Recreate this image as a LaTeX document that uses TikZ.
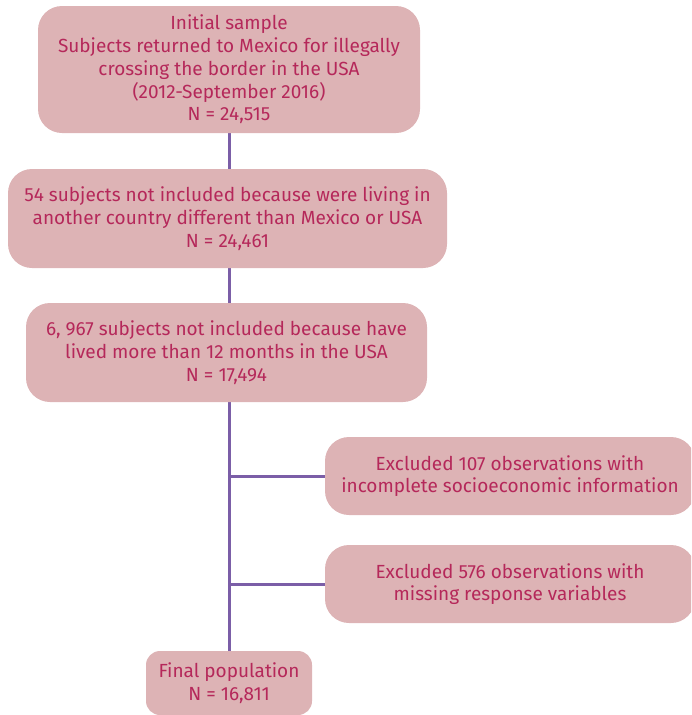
\documentclass[tikz,border=0pt]{standalone}
\usepackage{fontspec}
\setmainfont{Fira Sans}
\usetikzlibrary{backgrounds}
\definecolor{boxfill}{RGB}{221,179,181}
\definecolor{boxtext}{RGB}{181,40,90}
\definecolor{linecol}{RGB}{123,94,167}
\tikzset{
  flowbox/.style={fill=boxfill, draw=none, rounded corners=24pt, text=boxtext,
    align=center, inner sep=0pt, font=\fontsize{19}{22.7}\selectfont},
  conn/.style={draw=linecol, line width=3pt}
}
\begin{document}
\begin{tikzpicture}[x=1pt,y=-1pt]
\useasboundingbox (0,0) rectangle (691,715);
\clip (0,0) rectangle (691,715);
\node[flowbox, minimum width=382pt, minimum height=127pt] (b1) at (229,69.5)
  {Initial sample\\Subjects returned to Mexico for illegally\\crossing the border in the USA\\(2012-September 2016)\\N = 24,515};
\node[flowbox, minimum width=439pt, minimum height=99pt] (b2) at (227.5,218.5)
  {54 subjects not included because were living in\\another country different than Mexico or USA\\N = 24,461};
\node[flowbox, minimum width=401pt, minimum height=99pt] (b3) at (226.5,352.5)
  {6, 967 subjects not included because have\\lived more than 12 months in the USA\\N = 17,494};
\node[flowbox, minimum width=370pt, minimum height=78pt] (b4) at (510,476)
  {Excluded 107 observations with\\incomplete socioeconomic information};
\node[flowbox, minimum width=370pt, minimum height=78pt] (b5) at (510,584)
  {Excluded 576 observations with\\missing response variables};
\node[flowbox, minimum width=166pt, minimum height=64pt, rounded corners=14pt] (b6) at (229,683)
  {Final population\\N = 16,811};
\begin{pgfonlayer}{background}
  \draw[conn] (b1.south) -- (b6.north);
  \draw[conn] (b4.west) -- (b4.west -| b1.south);
  \draw[conn] (b5.west) -- (b5.west -| b1.south);
\end{pgfonlayer}
\end{tikzpicture}
\end{document}
